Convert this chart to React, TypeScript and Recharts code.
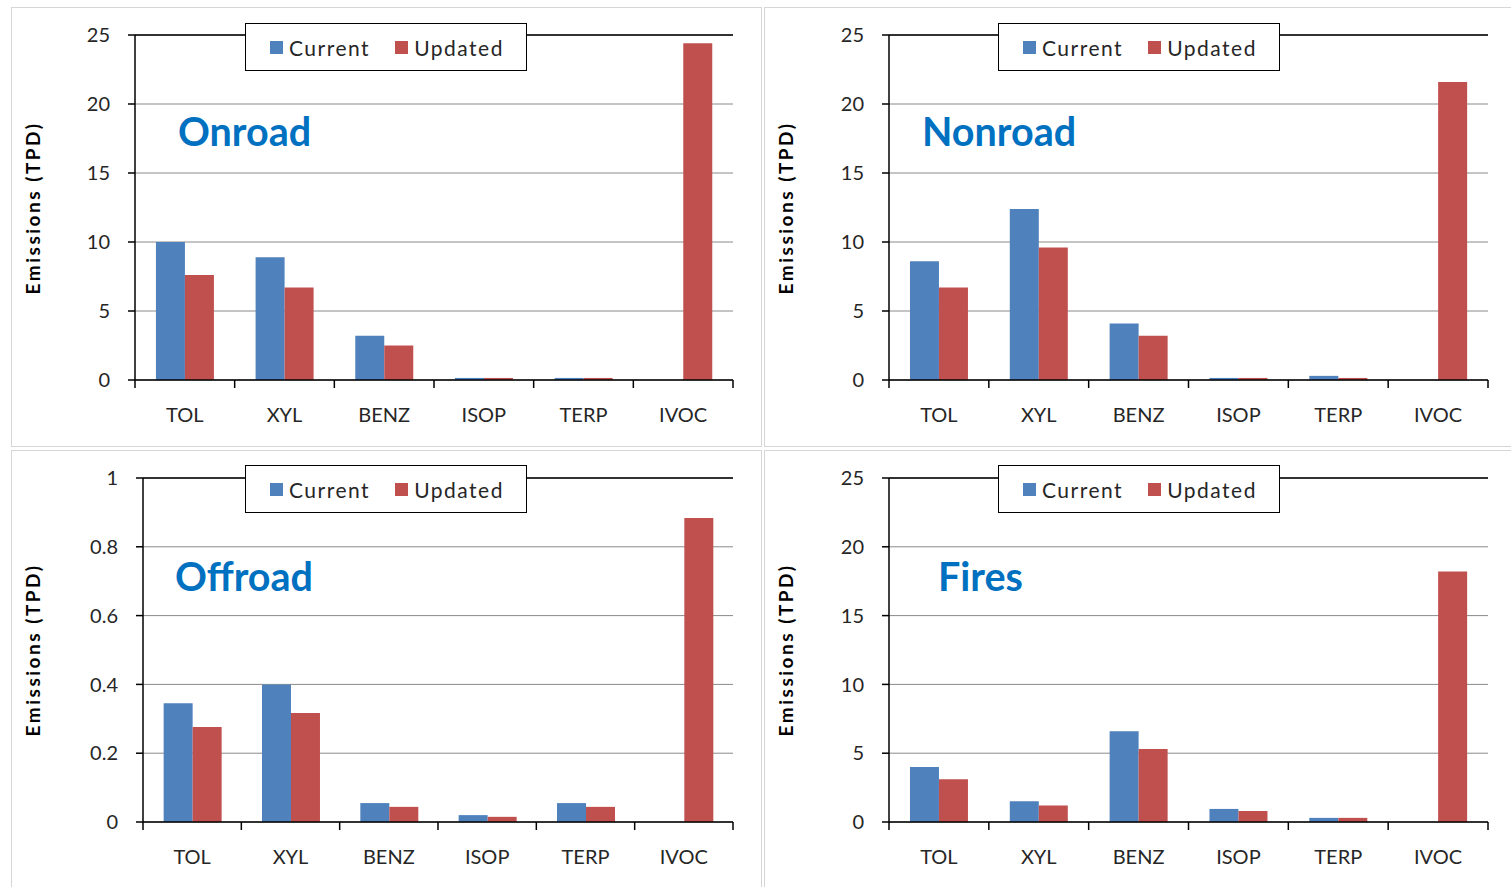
import { BarChart, Bar, XAxis, YAxis, CartesianGrid, ReferenceLine } from 'recharts'

const categories = ['TOL', 'XYL', 'BENZ', 'ISOP', 'TERP', 'IVOC']

const onroadCurrent = [10.0, 8.9, 3.2, 0.15, 0.15, 0]
const onroadUpdated = [7.6, 6.7, 2.5, 0.15, 0.15, 24.4]

const nonroadCurrent = [8.6, 12.4, 4.1, 0.15, 0.3, 0]
const nonroadUpdated = [6.7, 9.6, 3.2, 0.15, 0.15, 21.6]

const offroadCurrent = [0.345, 0.4, 0.055, 0.02, 0.055, 0]
const offroadUpdated = [0.276, 0.317, 0.044, 0.015, 0.044, 0.884]

const firesCurrent = [4.0, 1.5, 6.6, 0.95, 0.3, 0]
const firesUpdated = [3.1, 1.2, 5.3, 0.8, 0.3, 18.2]

const tonTicks = [0, 5, 10, 15, 20, 25]
const offroadTicks = [0, 0.2, 0.4, 0.6, 0.8, 1]

const BLUE = '#4F81BD'
const RED = '#C0504D'
const FONT = 'Lato, "Open Sans", sans-serif'

type Box = { x: number, y: number, w: number, h: number }
type Plot = { l: number, t: number, r: number, b: number }

type PanelProps = {
  title: string,
  current: number[],
  updated: number[],
  ticks: number[],
  box: Box,
  plot: Plot,
  legend: { x: number, y: number },
  titlePos: { x: number, y: number },
}

function CatTick(props: any) {
  const { x, y, payload, index, band, last } = props
  const axisY = y - 28
  return (
    <g>
      <line x1={x - band / 2} x2={x - band / 2} y1={axisY} y2={axisY + 8} stroke="#000" strokeWidth={1.5}/>
      {index === last && (
        <line x1={x + band / 2} x2={x + band / 2} y1={axisY} y2={axisY + 8} stroke="#000" strokeWidth={1.5}/>
      )}
      <text x={x} y={y} dy="0.71em" textAnchor="middle" fontSize={20} fill="#262626" fontFamily={FONT}>
        {payload.value}
      </text>
    </g>
  )
}

function Panel({title, current, updated, ticks, box, plot, legend, titlePos}: PanelProps) {
  const data = categories.map((c, i) => ({name: c, current: current[i], updated: updated[i]}))
  const yMax = ticks[ticks.length - 1]
  const yAxisW = 60
  const margin = {
    top: plot.t - box.y,
    right: box.x + box.w - plot.r,
    left: plot.l - box.x - yAxisW,
    bottom: box.y + box.h - plot.b - 40,
  }
  const band = (plot.r - plot.l) / categories.length
  const labelX = box.x + 22

  return (
    <>
      <div style={{position: 'absolute', left: box.x, top: box.y, width: box.w, height: box.h,
        border: '1px solid #d6d6d6', boxSizing: 'border-box'}}/>
      <div style={{position: 'absolute', left: box.x, top: box.y}}>
        <BarChart width={box.w} height={box.h} data={data} margin={margin}
          barCategoryGap="21%" barGap={0}>
          <CartesianGrid vertical={false} stroke="#8a8a8a" strokeWidth={1} yAxisId={0}/>
          <XAxis dataKey="name" height={40} tickSize={0} tickMargin={28} axisLine={{stroke: '#000', strokeWidth: 1.5}}
            tickLine={false} interval={0}
            tick={(p: any) => <CatTick {...p} band={band} last={categories.length - 1}/>}/>
          <YAxis type="number" domain={[0, yMax]} ticks={ticks} width={yAxisW} tickSize={7} tickMargin={18}
            interval={0} allowDataOverflow
            axisLine={{stroke: '#000', strokeWidth: 1.5}} tickLine={{stroke: '#000', strokeWidth: 1.5}}
            tick={{fontSize: 20, fill: '#262626', fontFamily: FONT}}/>
          <YAxis yAxisId="frame" orientation="right" domain={[0, yMax]} width={0} tick={false} tickLine={false}
            axisLine={{stroke: '#000', strokeWidth: 1.5}}/>
          <ReferenceLine y={yMax} stroke="#000" strokeWidth={1.5}/>
          <Bar dataKey="current" fill={BLUE} isAnimationActive={false}/>
          <Bar dataKey="updated" fill={RED} isAnimationActive={false}/>
        </BarChart>
      </div>
      <div style={{position: 'absolute', left: legend.x, top: legend.y, width: 282, height: 48,
        border: '1.5px solid #000', boxSizing: 'border-box', background: '#fff',
        display: 'flex', alignItems: 'center', fontFamily: FONT, fontSize: 21, color: '#262626',
        letterSpacing: 1.5}}>
        <span style={{display: 'inline-block', width: 13, height: 13, background: BLUE, marginLeft: 24, marginRight: 6}}/>
        <span>Current</span>
        <span style={{display: 'inline-block', width: 13, height: 13, background: RED, marginLeft: 25, marginRight: 6}}/>
        <span>Updated</span>
      </div>
      <div style={{position: 'absolute', left: titlePos.x, top: titlePos.y - 23, fontFamily: FONT,
        fontWeight: 700, fontSize: 39.5, color: '#0070C0', lineHeight: '46px', whiteSpace: 'nowrap'}}>
        {title}
      </div>
      <div style={{position: 'absolute', left: labelX - 110, top: (plot.t + plot.b) / 2 - 12, width: 220,
        height: 24, lineHeight: '24px', textAlign: 'center', transform: 'rotate(-90deg)',
        fontFamily: FONT, fontWeight: 700, fontSize: 19, letterSpacing: 2.5, color: '#000', whiteSpace: 'nowrap'}}>
        Emissions (TPD)
      </div>
    </>
  )
}

export default function App() {
  return (
    <div style={{position: 'absolute', left: 0, top: 0, width: 1511, height: 887, background: '#fff', overflow: 'hidden'}}>
      <Panel title="Onroad" current={onroadCurrent} updated={onroadUpdated} ticks={tonTicks}
        box={{x: 11, y: 7, w: 751, h: 440}} plot={{l: 135, t: 35, r: 733, b: 380}}
        legend={{x: 245, y: 23}} titlePos={{x: 178, y: 131}}/>
      <Panel title="Nonroad" current={nonroadCurrent} updated={nonroadUpdated} ticks={tonTicks}
        box={{x: 764, y: 7, w: 750, h: 440}} plot={{l: 889, t: 35, r: 1488, b: 380}}
        legend={{x: 998, y: 23}} titlePos={{x: 922, y: 131}}/>
      <Panel title="Offroad" current={offroadCurrent} updated={offroadUpdated} ticks={offroadTicks}
        box={{x: 11, y: 450, w: 751, h: 440}} plot={{l: 143, t: 478, r: 733, b: 822}}
        legend={{x: 245, y: 465}} titlePos={{x: 175, y: 576}}/>
      <Panel title="Fires" current={firesCurrent} updated={firesUpdated} ticks={tonTicks}
        box={{x: 764, y: 450, w: 750, h: 440}} plot={{l: 889, t: 478, r: 1488, b: 822}}
        legend={{x: 998, y: 465}} titlePos={{x: 938, y: 576}}/>
    </div>
  )
}
